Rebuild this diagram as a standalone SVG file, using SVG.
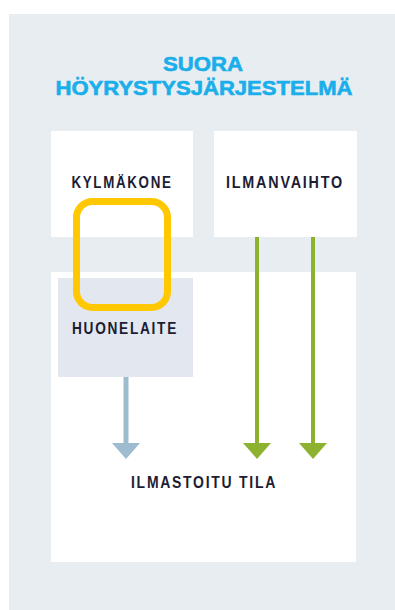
<svg xmlns="http://www.w3.org/2000/svg" width="395" height="610" viewBox="0 0 395 610">
<style>
.lbl{font-family:"Liberation Sans",Arial,sans-serif;font-weight:bold;font-size:16px;letter-spacing:2px;fill:#1c1d33;text-anchor:middle}
.ttl{font-family:"Liberation Sans",Arial,sans-serif;font-weight:bold;font-size:20.5px;fill:#1aaeea;stroke:#1aaeea;stroke-width:0.6;text-anchor:middle}
.box{fill:#ffffff}
</style>
<rect x="0" y="0" width="395" height="610" fill="#ffffff"/>
<rect x="9" y="14" width="386" height="596" fill="#e8edf2"/>
<g id="title">
<text class="ttl" x="203" y="71" textLength="80" lengthAdjust="spacingAndGlyphs">SUORA</text>
<text class="ttl" x="204" y="95" textLength="297" lengthAdjust="spacingAndGlyphs">HÖYRYSTYSJÄRJESTELMÄ</text>
</g>
<g id="kylmakone">
<rect class="box" x="51" y="131" width="142" height="106"/>
<text class="lbl" x="122" y="188" textLength="101" lengthAdjust="spacingAndGlyphs">KYLMÄKONE</text>
</g>
<g id="ilmanvaihto">
<rect class="box" x="214" y="131" width="143" height="106"/>
<text class="lbl" x="285" y="188" textLength="118" lengthAdjust="spacingAndGlyphs">ILMANVAIHTO</text>
</g>
<g id="ilmastoitu-tila">
<rect class="box" x="51" y="272" width="305" height="290"/>
<text class="lbl" x="204" y="488" textLength="146" lengthAdjust="spacingAndGlyphs">ILMASTOITU TILA</text>
</g>
<g id="huonelaite">
<rect x="58" y="278" width="135" height="99" fill="#e3e8f0"/>
<text class="lbl" x="125" y="334" textLength="106" lengthAdjust="spacingAndGlyphs">HUONELAITE</text>
</g>
<g id="connectors">
<rect x="76.5" y="201.5" width="91" height="106" rx="16" ry="16" fill="none" stroke="#ffc800" stroke-width="7"/>
<line x1="126" y1="377" x2="126" y2="445" stroke="#9dbccf" stroke-width="5"/>
<polygon points="112,443 140,443 126,459" fill="#9dbccf"/>
<line x1="257" y1="237" x2="257" y2="445" stroke="#8db22f" stroke-width="4"/>
<polygon points="243,443 271,443 257,459" fill="#8db22f"/>
<line x1="313" y1="237" x2="313" y2="445" stroke="#8db22f" stroke-width="4"/>
<polygon points="299,443 327,443 313,459" fill="#8db22f"/>
</g>
</svg>
